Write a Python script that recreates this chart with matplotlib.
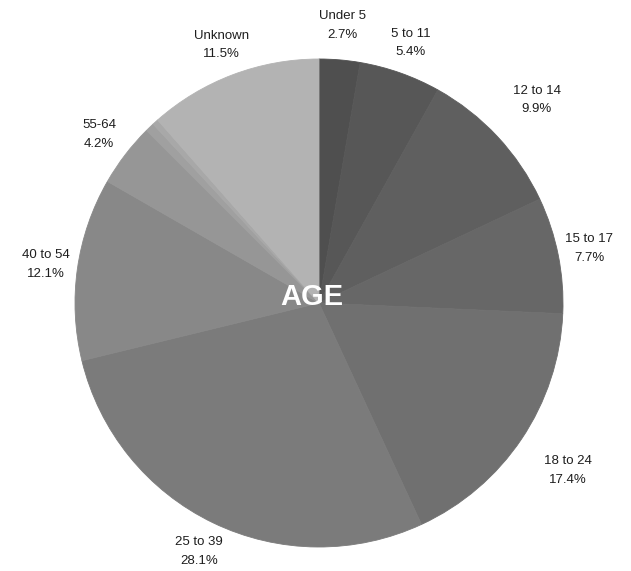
import numpy as np
import matplotlib
matplotlib.use('Agg')
import matplotlib.pyplot as plt

# Age groups, clockwise from 12 o'clock
labels = ['Under 5', '5 to 11', '12 to 14', '15 to 17', '18 to 24',
          '25 to 39', '40 to 54', '55-64', '65-74', '75+', 'Unknown']
shares = [2.7, 5.4, 9.9, 7.7, 17.4, 28.1, 12.1, 4.2, 0.6, 0.4, 11.5]
show_label = [True, True, True, True, True, True, True, True, False, False, True]
colors = ['#4f4f4f', '#575757', '#5f5f5f', '#676767', '#707070', '#7b7b7b',
          '#888888', '#969696', '#a0a0a0', '#a8a8a8', '#b3b3b3']
label_dist = [1.14, 1.13, 1.22, 1.13, 1.23, 1.13, 1.13, 1.135, 1.13, 1.13, 1.13]

plt.rcParams['font.family'] = ['Liberation Sans', 'DejaVu Sans']

fig = plt.figure(figsize=(6.31, 5.71), dpi=100)
ax = fig.add_axes([0, 0, 1, 1])

cx, cy, R = 319, 571 - 303, 244
wedges, _ = ax.pie(shares, colors=colors, startangle=90, counterclock=False,
                   center=(cx, cy), radius=R, frame=True,
                   wedgeprops=dict(linewidth=0.6))
for w in wedges:
    w.set_edgecolor(w.get_facecolor())
ax.set_xlim(0, 631)
ax.set_ylim(0, 571)
ax.set_aspect('equal')
ax.axis('off')

for w, lab, val, show, d in zip(wedges, labels, shares, show_label, label_dist):
    if not show:
        continue
    ang = np.deg2rad((w.theta1 + w.theta2) / 2)
    x = cx + R * d * np.cos(ang)
    y = cy + R * d * np.sin(ang)
    ax.text(x, y, f'{lab}\n{val:.1f}%', ha='center', va='center',
            fontsize=9.5, color='#1e1e1e', linespacing=1.75)

ax.text(cx - 7, cy + 6, 'AGE', ha='center', va='center', fontsize=21,
        fontweight='bold', color='white')

fig.savefig('out.png', dpi=100, facecolor='white')
